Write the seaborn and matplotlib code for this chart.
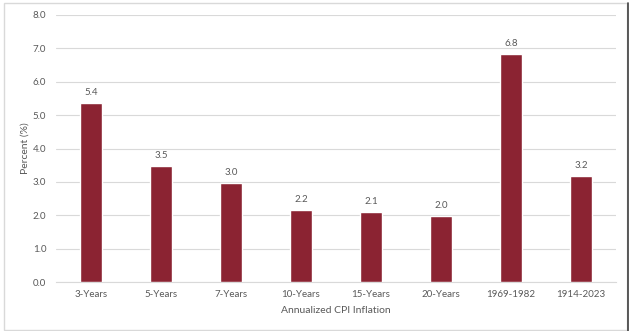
import matplotlib
matplotlib.use("Agg")
import matplotlib.pyplot as plt
import seaborn as sns
import pandas as pd
from matplotlib.patches import Rectangle
from matplotlib.lines import Line2D

periods = ["3-Years", "5-Years", "7-Years", "10-Years", "15-Years", "20-Years", "1969-1982", "1914-2023"]
inflation = [5.37, 3.47, 2.97, 2.17, 2.11, 1.99, 6.84, 3.17]

df = pd.DataFrame({"period": periods, "inflation": inflation})

sns.set_theme(style="white")
plt.rcParams["font.family"] = ["Lato", "DejaVu Sans"]

text_color = "#595959"
bar_color = "#8B2332"
grid_color = "#D9D9D9"

fig = plt.figure(figsize=(6.32, 3.31), dpi=100)
ax = fig.add_axes([56 / 632, 1 - 282 / 331, (616 - 56) / 632, (282 - 15) / 331])

sns.barplot(data=df, x="period", y="inflation", color=bar_color, width=0.32,
            saturation=1, ax=ax, zorder=3)

ax.set_ylim(0, 8)
ax.set_yticks(range(0, 9))
ax.set_yticklabels([f"{v:.1f}" for v in range(0, 9)])
ax.yaxis.grid(True, color=grid_color, linewidth=0.8, zorder=0)
ax.set_axisbelow(True)
for side in ["top", "right", "left"]:
    ax.spines[side].set_visible(False)
ax.spines["bottom"].set_color(grid_color)
ax.spines["bottom"].set_linewidth(0.8)
ax.tick_params(axis="both", length=0, labelsize=7, colors=text_color, pad=6)
ax.tick_params(axis="y", pad=7)

for i, v in enumerate(inflation):
    ax.text(i, v + 0.18, f"{v:.1f}", ha="center", va="bottom", fontsize=7, color=text_color)

ax.set_xlabel("Annualized CPI Inflation", fontsize=7.5, color=text_color, labelpad=5)
ax.set_ylabel("Percent (%)", fontsize=7.5, color=text_color)
ax.yaxis.set_label_coords((30 - 56) / 560, 0.5)

# chart frame: light border with a darker right edge
fig.patches.append(Rectangle((4 / 632, 1 / 331), 623 / 632, 327 / 331, transform=fig.transFigure,
                             fill=False, edgecolor="#D9D9D9", linewidth=1))
fig.lines.append(Line2D([627.5 / 632, 627.5 / 632], [0, 1 - 3 / 331], transform=fig.transFigure,
                        color="#404040", linewidth=1.2))

fig.savefig("out.png", dpi=100, facecolor="white")
